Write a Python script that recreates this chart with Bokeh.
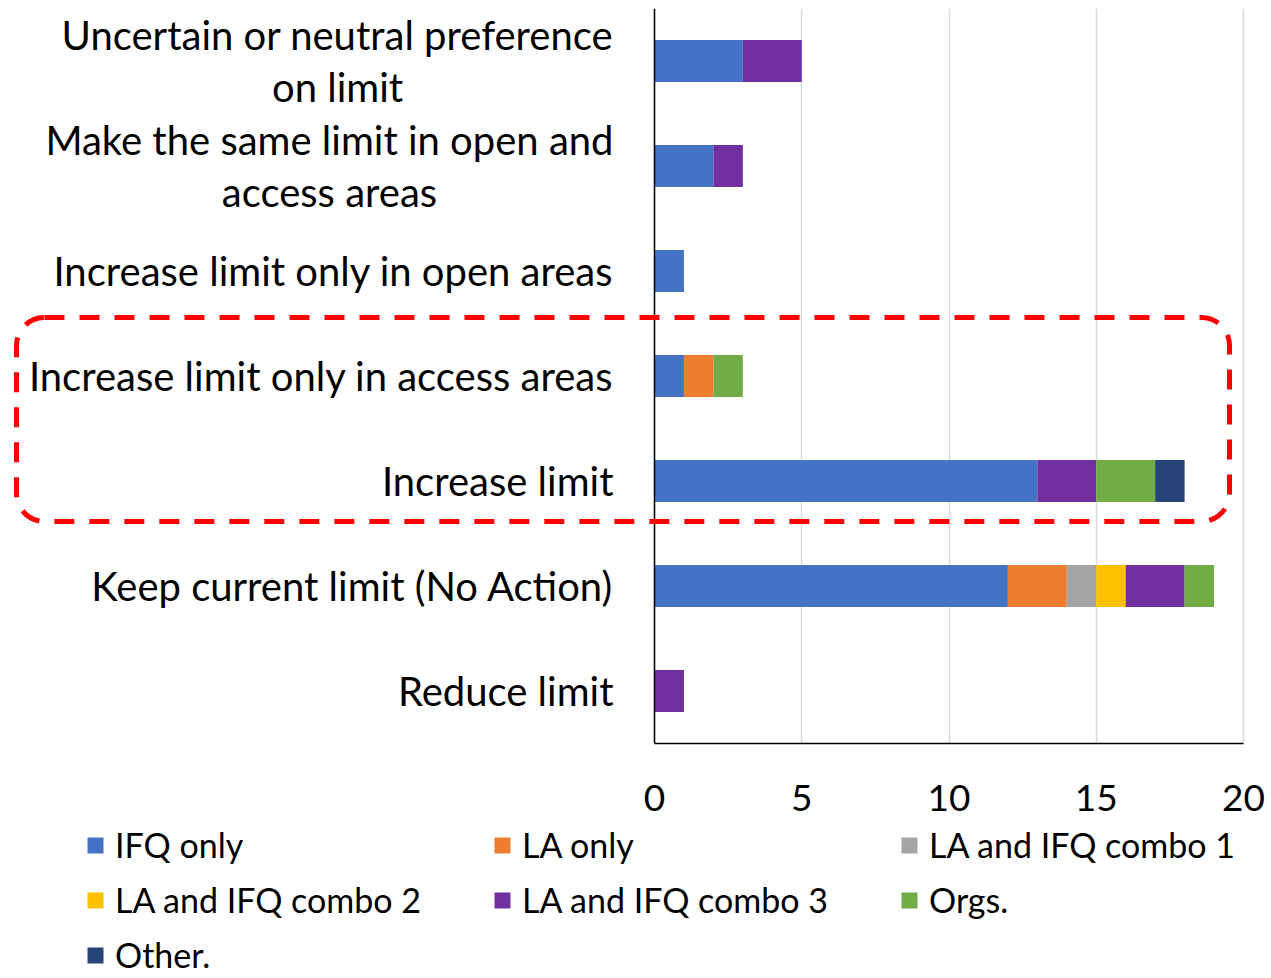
from bokeh.plotting import figure
from bokeh.layouts import column
from bokeh.models import Legend, LegendItem, BoxAnnotation, FactorRange, Range1d, FixedTicker, Span
from bokeh.core.properties import value
from bokeh.embed import file_html
from bokeh.resources import INLINE

# ---- data ----
categories = [
    "Uncertain or neutral preference\non limit",
    "Make the same limit in open and\naccess areas",
    "Increase limit only in open areas",
    "Increase limit only in access areas",
    "Increase limit",
    "Keep current limit (No Action)",
    "Reduce limit",
]
series_names = ["IFQ only", "LA only", "LA and IFQ combo 1", "LA and IFQ combo 2",
                "LA and IFQ combo 3", "Orgs.", "Other."]
ifq_only = [3, 2, 1, 1, 13, 12, 0]
la_only = [0, 0, 0, 1, 0, 2, 0]
combo1 = [0, 0, 0, 0, 0, 1, 0]
combo2 = [0, 0, 0, 0, 0, 1, 0]
combo3 = [2, 1, 0, 0, 2, 2, 1]
orgs = [0, 0, 0, 1, 2, 1, 0]
other = [0, 0, 0, 0, 1, 0, 0]
x_ticks = [0, 5, 10, 15, 20]

colors = ["#4472C4", "#ED7D31", "#A5A5A5", "#FFC000", "#7030A0", "#70AD47", "#264478"]
FONT = "Lato"

# geometry (canvas pixels)
W = 1271
H_MAIN, H_LEG = 821, 157
X0_PX, X20_PX = 654, 1243
PX_PER_UNIT = (X20_PX - X0_PX) / 20.0
x_start = -X0_PX / PX_PER_UNIT
x_end = (W - X0_PX) / PX_PER_UNIT

keys = ["s0", "s1", "s2", "s3", "s4", "s5", "s6"]
data = {"cat": categories, "zero": [0] * len(categories)}
for k, arr in zip(keys, [ifq_only, la_only, combo1, combo2, combo3, orgs, other]):
    data[k] = arr

p = figure(
    width=W, height=H_MAIN,
    y_range=FactorRange(factors=list(reversed(categories))),
    x_range=Range1d(x_start, x_end),
    y_axis_location=None,
    output_backend="svg", toolbar_location=None,
    min_border_left=0, min_border_right=0, min_border_top=8, min_border_bottom=78,
)
p.outline_line_color = None

p.xgrid.grid_line_color = "#D9D9D9"
p.xgrid.grid_line_width = 1.5
p.ygrid.grid_line_color = None

renderers = p.hbar_stack(keys, y="cat", height=0.4, color=colors, source=data, line_color=None)

p.add_layout(Span(location=0, dimension="height", line_color="black", line_width=1.5))

# category labels (right-anchored blocks, centred lines)
p.text(x="zero", y="cat", text="cat", source=data, x_offset=-41,
       anchor="center_right", text_align="center", text_baseline="middle",
       text_font=value(FONT), text_font_size=value("40px"), text_color="black",
       text_line_height=1.08)

# x axis
p.xaxis.ticker = FixedTicker(ticks=x_ticks)
p.xaxis.bounds = (0, 20)
p.xaxis.major_label_text_font = FONT
p.xaxis.major_label_text_font_size = "37px"
p.xaxis.major_label_text_color = "black"
p.xaxis.major_label_text_line_height = 0.9
p.xaxis.major_label_standoff = 35
p.xaxis.major_tick_line_color = None
p.xaxis.minor_tick_line_color = None
p.xaxis.axis_line_color = "black"
p.xaxis.axis_line_width = 1.5

# red dashed highlight box
box = BoxAnnotation(left=(16 - X0_PX) / PX_PER_UNIT, right=(1229 - X0_PX) / PX_PER_UNIT,
                    bottom=2.114, top=4.057,
                    fill_alpha=0, line_color="#FF0000", line_alpha=1.0, line_width=5,
                    line_dash="20 15", border_radius=28, level="overlay")
p.add_layout(box)

# legend strip (its own figure, with hidden copies of the bar renderers)
p2 = figure(
    width=W, height=H_LEG,
    y_range=FactorRange(factors=list(reversed(categories))),
    x_range=Range1d(0, 20),
    x_axis_location=None, y_axis_location=None,
    output_backend="svg", toolbar_location=None,
    min_border_left=0, min_border_right=0, min_border_top=0, min_border_bottom=0,
)
p2.outline_line_color = None
p2.grid.grid_line_color = None
leg_renderers = p2.hbar_stack(keys, y="cat", height=0.4, color=colors, source=data, line_color=None)
for r in leg_renderers:
    r.visible = False

items = [LegendItem(label=n, renderers=[r]) for n, r in zip(series_names, leg_renderers)]
legend = Legend(items=items, ncols=3, orientation="horizontal", location=(85, 3),
                label_text_font=FONT, label_text_font_size="34px", label_text_color="black",
                glyph_width=20, glyph_height=20, label_standoff=10, label_width=363,
                label_height=30, spacing=14, padding=0, margin=0,
                inactive_fill_alpha=0,
                border_line_alpha=0, background_fill_alpha=0)
p2.add_layout(legend)

open("out.html", "w").write(file_html(column(p, p2, spacing=0), INLINE))
